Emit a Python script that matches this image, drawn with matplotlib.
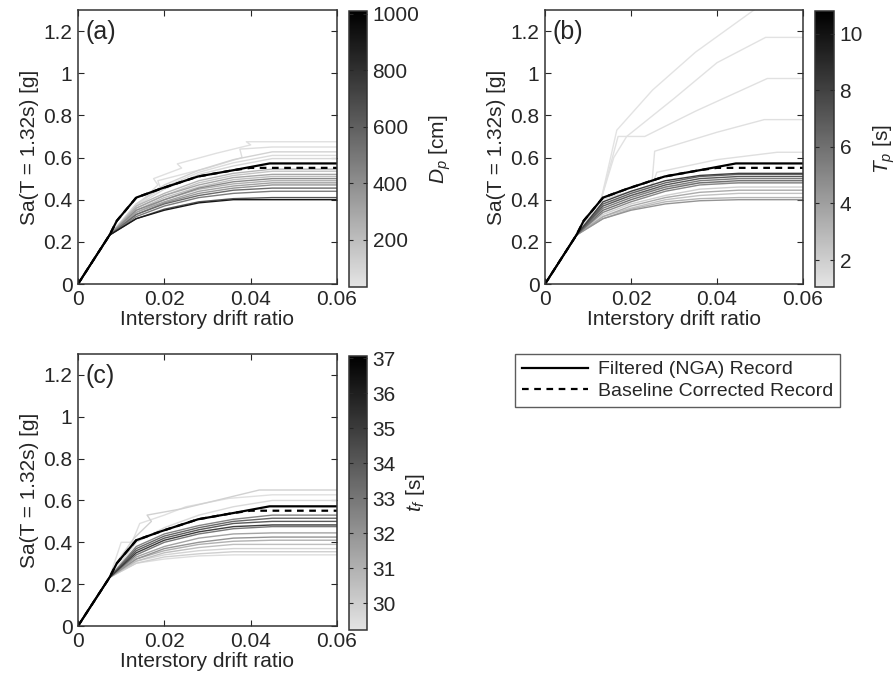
"""Curvas IDA coloreadas por parámetro del pulso (D_p, T_p, t_f)."""
import matplotlib
matplotlib.use("Agg")
import matplotlib.pyplot as plt
from matplotlib.colors import LinearSegmentedColormap, Normalize
from matplotlib.cm import ScalarMappable
from matplotlib.lines import Line2D

plt.rcParams["font.family"] = ["Liberation Sans", "DejaVu Sans"]
plt.rcParams["mathtext.fontset"] = "custom"
plt.rcParams["mathtext.it"] = "Liberation Sans:italic"
plt.rcParams["mathtext.rm"] = "Liberation Sans"

TXT = "#262626"
FS = 15

# rejilla común de deriva para las curvas "regulares"
GRID = [0, 0.0073, 0.0135, 0.020, 0.028, 0.036, 0.045, 0.060]

# registro de referencia (filtrado NGA) y corregido por línea base
REF_X = [0, 0.0073, 0.0090, 0.0135, 0.0193, 0.0278, 0.036, 0.0444, 0.060]
REF_Y = [0, 0.232, 0.30, 0.41, 0.453, 0.51, 0.54, 0.572, 0.572]
BLC_X = [0, 0.0073, 0.0090, 0.0135, 0.0193, 0.0278, 0.036, 0.040, 0.060]
BLC_Y = [0, 0.232, 0.30, 0.41, 0.453, 0.51, 0.54, 0.551, 0.551]

# (a) D_p [cm]
SA_A = [
    [0, 0.232, 0.31, 0.35, 0.385, 0.40, 0.40, 0.40],
    [0, 0.232, 0.31, 0.355, 0.39, 0.405, 0.41, 0.41],
    [0, 0.232, 0.32, 0.37, 0.41, 0.43, 0.44, 0.44],
    [0, 0.232, 0.33, 0.38, 0.42, 0.445, 0.455, 0.455],
    [0, 0.232, 0.33, 0.385, 0.43, 0.455, 0.47, 0.47],
    [0, 0.232, 0.34, 0.39, 0.44, 0.465, 0.48, 0.48],
    [0, 0.232, 0.34, 0.40, 0.45, 0.475, 0.49, 0.49],
    [0, 0.232, 0.35, 0.40, 0.455, 0.485, 0.50, 0.50],
    [0, 0.232, 0.35, 0.41, 0.46, 0.495, 0.51, 0.51],
    [0, 0.232, 0.36, 0.42, 0.47, 0.505, 0.52, 0.52],
    [0, 0.232, 0.36, 0.42, 0.48, 0.515, 0.535, 0.535],
    [0, 0.232, 0.37, 0.43, 0.49, 0.525, 0.545, 0.545],
    [0, 0.232, 0.37, 0.45, 0.52, 0.56, 0.595, 0.595],
    [0, 0.232, 0.38, 0.46, 0.53, 0.575, 0.61, 0.61],
    [0, 0.232, 0.38, 0.47, 0.54, 0.59, 0.627, 0.627],
]
DP_A = [900, 650, 480, 560, 380, 320, 260, 420, 200, 300, 170, 230, 90, 70, 110]
ZX_A = [
    [0, 0.0073, 0.0135, 0.0185, 0.0175, 0.024, 0.023, 0.032, 0.040, 0.039, 0.060],
    [0, 0.0073, 0.0135, 0.0190, 0.0185, 0.026, 0.030, 0.038, 0.0375, 0.045, 0.060],
]
ZY_A = [
    [0, 0.232, 0.37, 0.47, 0.50, 0.55, 0.57, 0.62, 0.66, 0.675, 0.675],
    [0, 0.232, 0.37, 0.46, 0.49, 0.53, 0.55, 0.60, 0.64, 0.65, 0.65],
]
ZDP_A = [50, 60]

# (b) T_p [s]
SA_B = [
    [0, 0.232, 0.31, 0.35, 0.38, 0.395, 0.40, 0.40],
    [0, 0.232, 0.31, 0.355, 0.39, 0.405, 0.41, 0.41],
    [0, 0.232, 0.32, 0.36, 0.40, 0.42, 0.43, 0.43],
    [0, 0.232, 0.32, 0.37, 0.41, 0.435, 0.445, 0.445],
    [0, 0.232, 0.33, 0.38, 0.42, 0.45, 0.46, 0.46],
    [0, 0.232, 0.38, 0.42, 0.46, 0.48, 0.48, 0.48],
    [0, 0.232, 0.34, 0.39, 0.44, 0.47, 0.48, 0.48],
    [0, 0.232, 0.35, 0.40, 0.45, 0.48, 0.49, 0.49],
    [0, 0.232, 0.36, 0.41, 0.46, 0.49, 0.50, 0.50],
    [0, 0.232, 0.37, 0.42, 0.47, 0.50, 0.51, 0.51],
    [0, 0.232, 0.38, 0.43, 0.48, 0.51, 0.52, 0.52],
    [0, 0.232, 0.39, 0.44, 0.49, 0.515, 0.525, 0.525],
]
TP_B = [4.5, 3.0, 2.5, 3.5, 2.0, 1.8, 5.0, 6.0, 5.5, 7.0, 6.5, 8.0]
ZX_B = [
    [0, 0.0073, 0.0131, 0.0167, 0.025, 0.035, 0.0486, 0.052],
    [0, 0.0073, 0.0131, 0.016, 0.019, 0.030, 0.040, 0.0513, 0.060],
    [0, 0.0073, 0.0131, 0.017, 0.0232, 0.035, 0.0517, 0.060],
    [0, 0.0073, 0.0131, 0.0248, 0.0255, 0.040, 0.051, 0.060],
    [0, 0.0073, 0.0131, 0.0248, 0.026, 0.040, 0.054, 0.060],
]
ZY_B = [
    [0, 0.232, 0.406, 0.73, 0.92, 1.10, 1.30, 1.35],
    [0, 0.232, 0.406, 0.60, 0.70, 0.88, 1.05, 1.17, 1.17],
    [0, 0.232, 0.406, 0.70, 0.70, 0.82, 0.975, 0.975],
    [0, 0.232, 0.406, 0.46, 0.63, 0.72, 0.78, 0.78],
    [0, 0.232, 0.40, 0.46, 0.53, 0.59, 0.625, 0.625],
]
ZTP_B = [1.1, 1.15, 1.2, 1.25, 1.3]

# (c) t_f [s]
SA_C = [
    [0, 0.232, 0.30, 0.32, 0.335, 0.34, 0.34, 0.34],
    [0, 0.232, 0.30, 0.33, 0.345, 0.355, 0.355, 0.355],
    [0, 0.232, 0.31, 0.34, 0.36, 0.37, 0.37, 0.37],
    [0, 0.232, 0.31, 0.35, 0.375, 0.39, 0.39, 0.39],
    [0, 0.232, 0.32, 0.36, 0.39, 0.405, 0.41, 0.41],
    [0, 0.232, 0.32, 0.37, 0.40, 0.42, 0.425, 0.425],
    [0, 0.232, 0.33, 0.38, 0.42, 0.44, 0.445, 0.445],
    [0, 0.232, 0.34, 0.40, 0.44, 0.465, 0.475, 0.475],
    [0, 0.232, 0.35, 0.41, 0.45, 0.475, 0.483, 0.483],
    [0, 0.232, 0.36, 0.42, 0.46, 0.49, 0.50, 0.50],
    [0, 0.232, 0.37, 0.43, 0.47, 0.50, 0.515, 0.515],
    [0, 0.232, 0.38, 0.44, 0.48, 0.51, 0.53, 0.53],
    [0, 0.232, 0.40, 0.47, 0.53, 0.57, 0.60, 0.60],
]
TF_C = [29.5, 30.0, 29.8, 30.5, 31.0, 32.0, 31.5, 33.0, 35.0, 34.0, 33.5, 32.5, 29.6]
ZX_C = [
    [0, 0.0073, 0.0100, 0.0125, 0.0143, 0.020, 0.025, 0.035, 0.045, 0.060],
    [0, 0.0073, 0.0095, 0.0130, 0.0170, 0.0160, 0.024, 0.032, 0.042, 0.060],
]
ZY_C = [
    [0, 0.232, 0.40, 0.40, 0.49, 0.53, 0.57, 0.61, 0.627, 0.627],
    [0, 0.232, 0.32, 0.42, 0.50, 0.53, 0.56, 0.60, 0.65, 0.65],
]
ZTF_C = [29.4, 29.9]

cmap = LinearSegmentedColormap.from_list("grises", ["#e4e4e4", "#000000"])

W, H = 896, 686
fig = plt.figure(figsize=(W / 100, H / 100), dpi=100)


def fr(x0, y0, x1, y1):
    return [x0 / W, 1 - y1 / H, (x1 - x0) / W, (y1 - y0) / H]


def panel(ax_box, cb_box, sa, cv, zx, zy, zc, vmin, vmax, cticks, clabel, tag):
    ax = fig.add_axes(fr(*ax_box))
    norm = Normalize(vmin, vmax)
    curves = [(GRID, y, c) for y, c in zip(sa, cv)]
    curves += [(x, y, c) for x, y, c in zip(zx, zy, zc)]
    curves.sort(key=lambda t: t[2])
    for x, y, c in curves:
        ax.plot(x, y, color=cmap(norm(c)), lw=1.0)
    ax.plot(REF_X, REF_Y, color="k", lw=1.6)
    ax.plot(BLC_X, BLC_Y, color="k", lw=1.6, ls=(0, (3, 2.5)))
    ax.set_xlim(0, 0.06)
    ax.set_ylim(0, 1.3)
    ax.set_xticks([0, 0.02, 0.04, 0.06])
    ax.set_xticklabels(["0", "0.02", "0.04", "0.06"])
    ax.set_yticks([0, 0.2, 0.4, 0.6, 0.8, 1.0, 1.2])
    ax.set_yticklabels(["0", "0.2", "0.4", "0.6", "0.8", "1", "1.2"])
    ax.tick_params(direction="in", top=True, right=True, length=4,
                   labelsize=FS, colors=TXT, pad=4)
    for s in ax.spines.values():
        s.set_color("#333333")
        s.set_linewidth(1.1)
    ax.set_xlabel("Interstory drift ratio", fontsize=FS, color=TXT, labelpad=1)
    ax.set_ylabel("Sa(T = 1.32s) [g]", fontsize=FS, color=TXT, labelpad=3)
    ax.text(0.03, 0.965, tag, transform=ax.transAxes, fontsize=18,
            color=TXT, va="top", ha="left")

    cax = fig.add_axes(fr(*cb_box))
    cb = fig.colorbar(ScalarMappable(norm=norm, cmap=cmap), cax=cax)
    cb.set_ticks(cticks)
    cb.outline.set_edgecolor("#333333")
    cb.outline.set_linewidth(1.1)
    cax.tick_params(direction="in", left=True, right=True, length=3,
                    labelsize=FS, colors=TXT, pad=4)
    cb.set_label(clabel, fontsize=FS, color=TXT, labelpad=6)
    return ax


panel((78, 10, 337, 284), (349, 11, 367, 287), SA_A, DP_A, ZX_A, ZY_A, ZDP_A,
      33, 1010, [200, 400, 600, 800, 1000], r"$D_p$ [cm]", "(a)")
panel((545, 10, 803, 284), (815, 11, 834, 287), SA_B, TP_B, ZX_B, ZY_B, ZTP_B,
      1.05, 10.8, [2, 4, 6, 8, 10], r"$T_p$ [s]", "(b)")
panel((78, 354, 337, 626), (349, 356, 367, 630), SA_C, TF_C, ZX_C, ZY_C, ZTF_C,
      29.24, 37.07, [30, 31, 32, 33, 34, 35, 36, 37], r"$t_f$ [s]", "(c)")

handles = [
    Line2D([], [], color="k", lw=1.6),
    Line2D([], [], color="k", lw=1.6, ls=(0, (3, 2.5))),
]
leg = fig.legend(handles, ["Filtered (NGA) Record", "Baseline Corrected Record"],
                 loc="upper left", bbox_to_anchor=(515 / W, 1 - 354 / H),
                 bbox_transform=fig.transFigure, fontsize=14, frameon=True,
                 fancybox=False, handlelength=3.4, handletextpad=0.5,
                 borderpad=0.35, labelspacing=0.2, borderaxespad=0)
leg.get_frame().set_edgecolor("#333333")
leg.get_frame().set_linewidth(1.0)
for t in leg.get_texts():
    t.set_color(TXT)

fig.savefig("out.png", dpi=100)
